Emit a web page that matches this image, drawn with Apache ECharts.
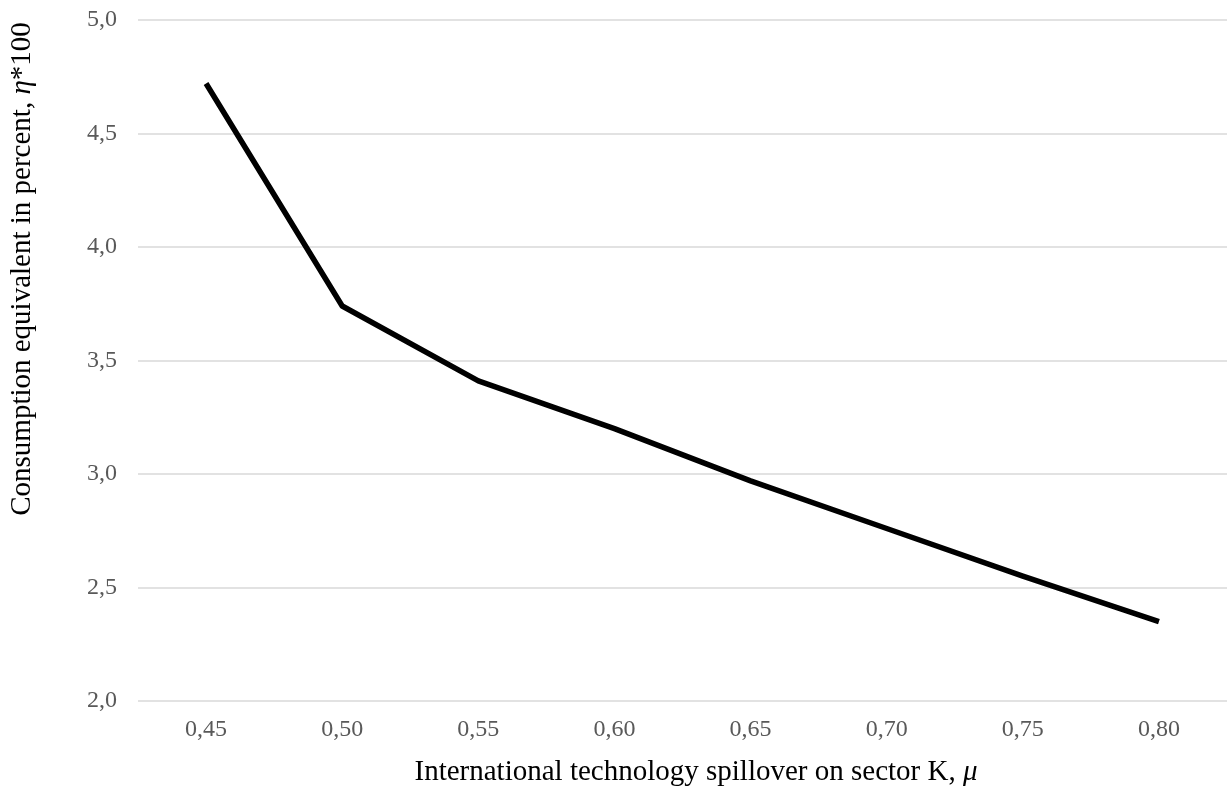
<!DOCTYPE html>
<html>
<head>
<meta charset="utf-8">
<script src="https://cdn.jsdelivr.net/npm/echarts@6/dist/echarts.min.js"></script>
<style>
  html, body { margin: 0; padding: 0; background: #fff; }
  #chart { width: 1227px; height: 792px; }
</style>
</head>
<body>
<div id="chart"></div>
<script>
// Data
const categories = ['0,45', '0,50', '0,55', '0,60', '0,65', '0,70', '0,75', '0,80'];
const etaValues = [4.72, 3.74, 3.41, 3.20, 2.97, 2.76, 2.55, 2.35];
const yTicks = { min: 2.0, max: 5.0, interval: 0.5 };
const xTitle = 'International technology spillover on sector K, ';
const xTitleSymbol = 'μ';
const yTitle = 'Consumption equivalent in percent, ';
const yTitleSymbol = 'η';
const yTitleSuffix = '*100';

const FONT = "'Liberation Serif', 'Times New Roman', serif";

const chart = echarts.init(document.getElementById('chart'), null, { renderer: 'canvas' });

chart.setOption({
  animation: false,
  backgroundColor: '#ffffff',
  grid: { left: 138, top: 20, width: 1094, bottom: 91, containLabel: false },
  xAxis: {
    type: 'category',
    data: categories,
    boundaryGap: true,
    axisLine: { show: false },
    axisTick: { show: false },
    splitLine: { show: false },
    axisLabel: { color: '#595959', fontFamily: FONT, fontSize: 24, margin: 17 }
  },
  yAxis: {
    type: 'value',
    min: yTicks.min,
    max: yTicks.max,
    interval: yTicks.interval,
    axisLine: { show: false },
    axisTick: { show: false },
    splitLine: { show: true, lineStyle: { color: '#d9d9d9', width: 1.5 } },
    axisLabel: {
      color: '#595959', fontFamily: FONT, fontSize: 24, margin: 21,
      formatter: v => v.toFixed(1).replace('.', ',')
    }
  },
  series: [{
    type: 'line',
    data: etaValues,
    symbol: 'none',
    lineStyle: { color: '#000000', width: 5.5, join: 'round' },
    itemStyle: { color: '#000000' }
  }],
  graphic: [
    {
      type: 'text',
      x: 696, y: 772,
      style: {
        text: xTitle + '{i|' + xTitleSymbol + '}',
        fill: '#000', fontSize: 29, fontFamily: FONT,
        textAlign: 'center', textVerticalAlign: 'middle',
        align: 'center', verticalAlign: 'middle',
        rich: { i: { fontStyle: 'italic', fontSize: 29, fontFamily: FONT, fill: '#000' } }
      }
    },
    {
      type: 'text',
      x: 22, y: 269,
      rotation: Math.PI / 2,
      style: {
        text: yTitle + '{i|' + yTitleSymbol + '}' + yTitleSuffix,
        fill: '#000', fontSize: 29, fontFamily: FONT,
        textAlign: 'center', textVerticalAlign: 'middle',
        align: 'center', verticalAlign: 'middle',
        rich: { i: { fontStyle: 'italic', fontSize: 29, fontFamily: FONT, fill: '#000' } }
      }
    }
  ]
});
</script>
</body>
</html>
